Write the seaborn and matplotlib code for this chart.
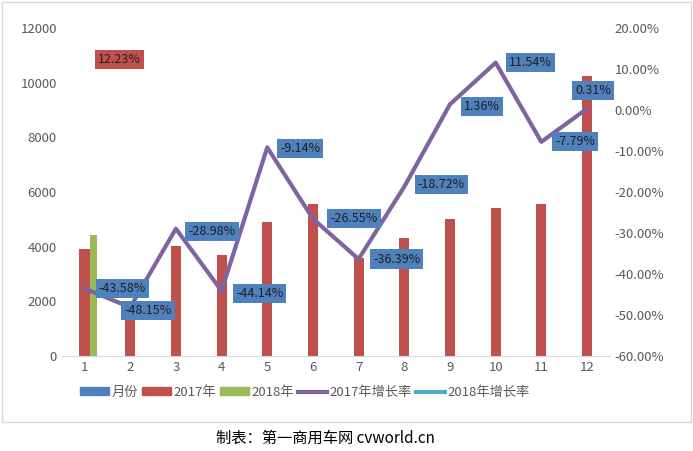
import numpy as np
import pandas as pd
import matplotlib
matplotlib.use('Agg')
import matplotlib.pyplot as plt
import seaborn as sns
from matplotlib.patches import Patch, Rectangle
from matplotlib.lines import Line2D

plt.rcParams['font.family'] = ['Noto Sans CJK SC', 'DejaVu Sans']

# data
months = list(range(1, 13))
sales_2017 = [3910, 1950, 4020, 3700, 4900, 5560, 3580, 4310, 5010, 5410, 5560, 10240]
sales_2018 = [4420]
growth_2017 = [-43.58, -48.15, -28.98, -44.14, -9.14, -26.55, -36.39, -18.72, 1.36, 11.54, -7.79, 0.31]
growth_2018 = [12.23]

label_offsets = [(38, 0), (18, -3), (36, -3), (38, -3), (33, -1), (41, 0),
                 (38, 0), (37, 2), (32, -2), (35, 0), (34, 0), (6, 18)]

blue = '#4F81BD'
red = '#C0504D'
green = '#9BBB59'
purple = '#8064A2'
cyan = '#4BACC6'
tick_col = '#595959'

fig = plt.figure(figsize=(6.93, 4.51), dpi=100)
fig.patches.append(Rectangle((0.003, 0.065), 0.994, 0.93, transform=fig.transFigure,
                             fill=False, edgecolor='#D9D9D9', linewidth=1))
ax = fig.add_axes([0.089, 0.211, 0.791, 0.727])

ax.bar(np.array(months), sales_2017, width=0.22, color=red)
ax.bar(np.array(months[:1]) + 0.2, sales_2018, width=0.15, color=green)
ax.set_xlim(0.5, 12.5)
ax.set_ylim(0, 12000)
ax.set_yticks(range(0, 12001, 2000))
ax.set_xticks(months)
ax.tick_params(colors=tick_col, labelsize=9.5, length=0)
for s in ['top', 'right', 'left']:
    ax.spines[s].set_visible(False)
ax.spines['bottom'].set_color('#D9D9D9')

ax2 = ax.twinx()
df = pd.DataFrame({'month': months, 'growth': growth_2017})
sns.lineplot(data=df, x='month', y='growth', color=purple, linewidth=3, ax=ax2)
ax2.set_ylim(-60, 20)
ax2.set_yticks(range(-60, 21, 10))
ax2.set_yticklabels([f'{v:.2f}%' for v in range(-60, 21, 10)])
ax2.tick_params(colors=tick_col, labelsize=9.5, length=0)
ax2.set_xlabel('')
ax2.set_ylabel('')
for s in ax2.spines.values():
    s.set_visible(False)

for m, g, off in zip(months, growth_2017, label_offsets):
    ax2.annotate(f'{g:.2f}%', (m, g), xytext=off, textcoords='offset pixels',
                 ha='center', va='center', fontsize=9, color='#1F1F1F',
                 bbox=dict(boxstyle='square,pad=0.25', fc=blue, ec='none'))
ax2.annotate(f'{growth_2018[0]:.2f}%', (1, 12.23), xytext=(35, 0), textcoords='offset pixels',
             ha='center', va='center', fontsize=9, color='#1F1F1F',
             bbox=dict(boxstyle='square,pad=0.25', fc=red, ec='none'))

handles = [Patch(color=blue), Patch(color=red), Patch(color=green),
           Line2D([], [], color=purple, lw=3), Line2D([], [], color=cyan, lw=3)]
labels = ['月份', '2017年', '2018年', '2017年增长率', '2018年增长率']
fig.legend(handles, labels, loc='center', bbox_to_anchor=(0.44, 0.13), ncol=5,
           frameon=False, fontsize=9.5, handlelength=2.2, handleheight=0.5,
           columnspacing=0.3, handletextpad=0.2, labelcolor=tick_col)

fig.text(0.47, 0.028, '制表：第一商用车网 cvworld.cn', ha='center', va='center', fontsize=11)

fig.savefig('out.png', dpi=100)
